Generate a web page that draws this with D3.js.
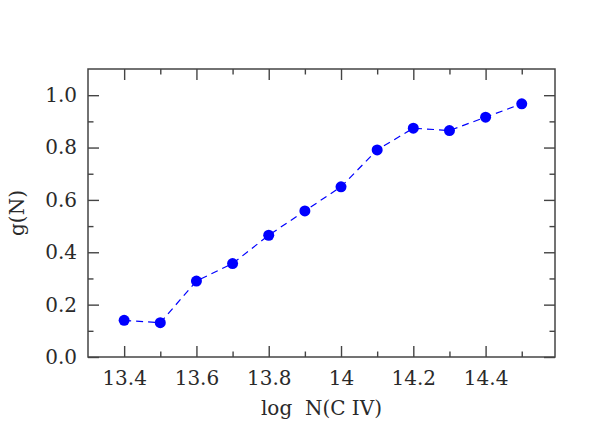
<!DOCTYPE html>
<html>
<head>
<meta charset="utf-8">
<script src="https://cdn.jsdelivr.net/npm/d3@7"></script>
<style>
  body { margin: 0; background: #fff; }
  .axis text { font-family: "DejaVu Serif", serif; font-size: 20px; fill: #2a2a2a; }
  .axis line { stroke: #444; stroke-width: 1.4; }
  .axis .domain { display: none; }
  .axis-title { font-family: "DejaVu Serif", serif; font-size: 20px; fill: #2a2a2a; white-space: pre; }
</style>
</head>
<body>
<div id="chart"></div>
<script>
// log N(C IV) bins and measured g(N)
const logN = [13.4, 13.5, 13.6, 13.7, 13.8, 13.9, 14.0, 14.1, 14.2, 14.3, 14.4, 14.5];
const gN = [0.140, 0.131, 0.290, 0.357, 0.465, 0.558, 0.650, 0.791, 0.874, 0.865, 0.916, 0.967];
const xMajorTicks = [13.4, 13.6, 13.8, 14.0, 14.2, 14.4];
const xMinorTicks = [13.5, 13.7, 13.9, 14.1, 14.3, 14.5];
const yMajorTicks = [0, 0.2, 0.4, 0.6, 0.8, 1.0];
const yMinorTicks = [0.1, 0.3, 0.5, 0.7, 0.9];

const width = 592, height = 422;
const margin = {top: 69, right: 37, bottom: 65, left: 88};
const w = width - margin.left - margin.right;
const h = height - margin.top - margin.bottom;

const svg = d3.select('#chart').append('svg')
    .attr('width', width)
    .attr('height', height);

const chart = svg.append('g')
    .attr('transform', `translate(${margin.left},${margin.top})`);

const x = d3.scaleLinear().domain([13.3, 14.592]).range([0, w]);
const y = d3.scaleLinear().domain([0, 1.1]).range([h, 0]);

const xFmt = d => (Math.abs(d - 14) < 1e-9 ? '14' : d3.format('.1f')(d));

// bottom axis with labels, ticks pointing inwards
chart.append('g').attr('class', 'axis')
    .attr('transform', `translate(0,${h})`)
    .call(d3.axisBottom(x).tickValues(xMajorTicks).tickSize(-11).tickPadding(14).tickFormat(xFmt));
chart.append('g').attr('class', 'axis')
    .attr('transform', `translate(0,${h})`)
    .call(d3.axisBottom(x).tickValues(xMinorTicks).tickSize(-5.5).tickFormat(''));

// top axis, ticks only
chart.append('g').attr('class', 'axis')
    .call(d3.axisTop(x).tickValues(xMajorTicks).tickSize(-11).tickFormat(''));
chart.append('g').attr('class', 'axis')
    .call(d3.axisTop(x).tickValues(xMinorTicks).tickSize(-5.5).tickFormat(''));

// left axis with labels
chart.append('g').attr('class', 'axis')
    .call(d3.axisLeft(y).tickValues(yMajorTicks).tickSize(-11).tickPadding(11).tickFormat(d3.format('.1f')));
chart.append('g').attr('class', 'axis')
    .call(d3.axisLeft(y).tickValues(yMinorTicks).tickSize(-5.5).tickFormat(''));

// right axis, ticks only
chart.append('g').attr('class', 'axis')
    .attr('transform', `translate(${w},0)`)
    .call(d3.axisRight(y).tickValues(yMajorTicks).tickSize(-11).tickFormat(''));
chart.append('g').attr('class', 'axis')
    .attr('transform', `translate(${w},0)`)
    .call(d3.axisRight(y).tickValues(yMinorTicks).tickSize(-5.5).tickFormat(''));

// frame
chart.append('rect')
    .attr('width', w).attr('height', h)
    .attr('fill', 'none')
    .attr('stroke', '#444')
    .attr('stroke-width', 1.5);

const data = logN.map((d, i) => ({x: d, y: gN[i]}));

const line = d3.line().x(d => x(d.x)).y(d => y(d.y));

chart.append('path')
    .datum(data)
    .attr('d', line)
    .attr('fill', 'none')
    .attr('stroke', '#0000ff')
    .attr('stroke-width', 1.2)
    .attr('stroke-dasharray', '7,5');

chart.selectAll('.point')
    .data(data)
    .join('circle')
    .attr('class', 'point')
    .attr('r', 5.5)
    .attr('cx', d => x(d.x))
    .attr('cy', d => y(d.y))
    .attr('fill', '#0000ff');

// axis titles
chart.append('text').attr('class', 'axis-title')
    .attr('x', w / 2).attr('y', h + 58)
    .style('text-anchor', 'middle')
    .text('log  N(C IV)');

svg.append('text').attr('class', 'axis-title')
    .attr('transform', `translate(24,${margin.top + h / 2}) rotate(-90)`)
    .style('text-anchor', 'middle')
    .text('g(N)');
</script>
</body>
</html>
